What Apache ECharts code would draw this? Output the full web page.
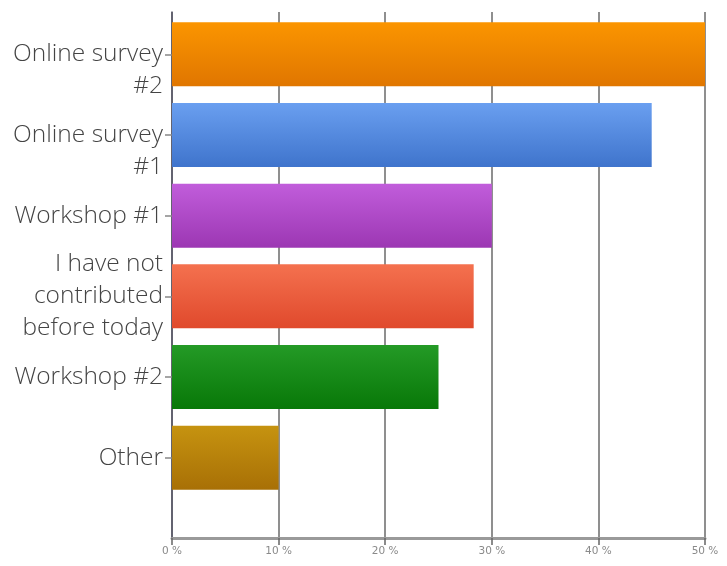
<!DOCTYPE html>
<html>
<head>
<meta charset="utf-8">
<script src="https://cdn.jsdelivr.net/npm/echarts@6/dist/echarts.min.js"></script>
<style>
html,body{margin:0;padding:0;background:#fff;}
#chart{width:727px;height:566px;}
</style>
</head>
<body>
<div id="chart"></div>
<script>
const categories = ['Online survey\n#2', 'Online survey\n#1', 'Workshop #1', 'I have not\ncontributed\nbefore today', 'Workshop #2', 'Other'];
const values = [50, 45, 30, 28.3, 25, 10];
const xTickValues = [0, 10, 20, 30, 40, 50];
const barColors = [
  ['#fb9500', '#e07600'],
  ['#6a9ff0', '#3f74cc'],
  ['#c15ddb', '#9c37b3'],
  ['#f4714f', '#e0492c'],
  ['#249a26', '#087808'],
  ['#c69310', '#a87006']
];

const chart = echarts.init(document.getElementById('chart'), null, {renderer: 'canvas'});

const grad = (c) => new echarts.graphic.LinearGradient(0, 0, 0, 1, [
  {offset: 0, color: c[0]}, {offset: 1, color: c[1]}
]);

chart.setOption({
  animation: false,
  backgroundColor: '#ffffff',
  grid: [
    {left: 172, right: 22, top: 14, bottom: 68},
    {left: 172, right: 22, top: 12, bottom: 28}
  ],
  xAxis: [
    {gridIndex: 0, type: 'value', min: 0, max: 50, interval: 10, show: false},
    {
      gridIndex: 1, type: 'value', min: 0, max: 50, interval: 10,
      axisLine: {show: true, lineStyle: {color: '#9a9a9a', width: 3}},
      axisTick: {show: true, length: 7, lineStyle: {color: '#666', width: 1.5}},
      splitLine: {show: true, lineStyle: {color: '#6a6a6a', width: 1.5}},
      axisLabel: {
        color: '#8a8a8a', fontSize: 10.5, fontFamily: 'DejaVu Sans', margin: 8,
        formatter: v => v + ' %'
      }
    }
  ],
  yAxis: [
    {
      gridIndex: 0, type: 'category', inverse: true, data: categories,
      axisLine: {show: false},
      axisTick: {show: true, alignWithLabel: true, interval: 0, length: 7, lineStyle: {color: '#888', width: 1.5}},
      axisLabel: {
        interval: 0,
        color: '#444444', fontSize: 24.5, fontFamily: 'Open Sans', fontWeight: 300, lineHeight: 32, margin: 9,
        align: 'right',
        formatter: (v) => {
          const n = v.split('\n').length;
          return n === 2 ? '\n' + v : v;
        }
      }
    },
    {
      gridIndex: 1, type: 'value', min: 0, max: 1,
      axisLine: {show: true, lineStyle: {color: '#555566', width: 1.5}},
      axisTick: {show: false}, axisLabel: {show: false}, splitLine: {show: false}
    }
  ],
  series: [{
    type: 'bar',
    xAxisIndex: 0, yAxisIndex: 0,
    barWidth: 64,
    data: values.map((v, i) => ({value: v, itemStyle: {color: grad(barColors[i])}})),
    z: 5
  }]
});
</script>
</body>
</html>
